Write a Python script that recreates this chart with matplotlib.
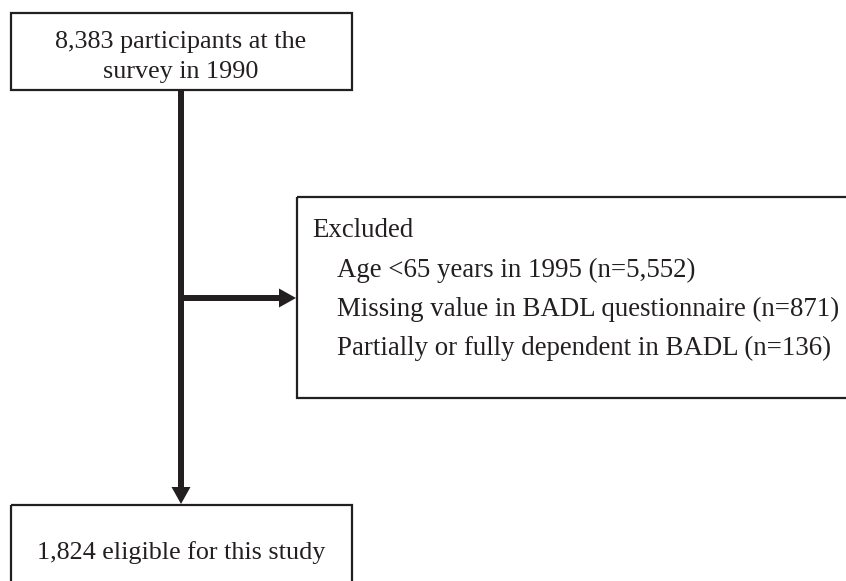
import matplotlib.pyplot as plt
from matplotlib.patches import Rectangle

# flowchart texts
top_lines = ["8,383 participants at the", "survey in 1990"]
excl_title = "Excluded"
excl_items = [
    "Age <65 years in 1995 (n=5,552)",
    "Missing value in BADL questionnaire (n=871)",
    "Partially or fully dependent in BADL (n=136)",
]
bottom_text = "1,824 eligible for this study"

INK = "#231f20"
FONT = "Liberation Serif"
FS = 18.8
FS_EXCL = 19.4

fig = plt.figure(figsize=(8.46, 5.81), dpi=100)
ax = fig.add_axes([0, 0, 1, 1])
ax.set_xlim(0, 846)
ax.set_ylim(581, 0)
ax.axis("off")

def box(x0, y0, x1, y1):
    ax.add_patch(Rectangle((x0, y0), x1 - x0, y1 - y0, fill=False,
                           edgecolor=INK, linewidth=1.6, clip_on=True))

# top box
box(11, 13, 352, 90)
for i, s in enumerate(top_lines):
    ax.text(181, 48 + i * 30, s, ha="center", va="baseline",
            fontsize=FS, family=FONT, color=INK)

# excluded box (right edge runs off the image)
box(297, 197, 860, 398)
ax.text(312, 237, excl_title, ha="left", va="baseline",
        fontsize=FS_EXCL, family=FONT, color=INK)
for i, s in enumerate(excl_items):
    ax.text(337, 277 + i * 39, s, ha="left", va="baseline",
            fontsize=FS_EXCL, family=FONT, color=INK)

# bottom box (bottom edge cut off)
box(11, 505, 352, 620)
ax.text(181, 559, bottom_text, ha="center", va="baseline",
        fontsize=FS, family=FONT, color=INK)

# arrows
ax.arrow(181, 90, 0, 414, width=6, head_width=19, head_length=17,
         length_includes_head=True, color=INK, linewidth=0)
ax.arrow(181, 298, 115, 0, width=6, head_width=19, head_length=17,
         length_includes_head=True, color=INK, linewidth=0)

fig.savefig("out.png", dpi=100)
